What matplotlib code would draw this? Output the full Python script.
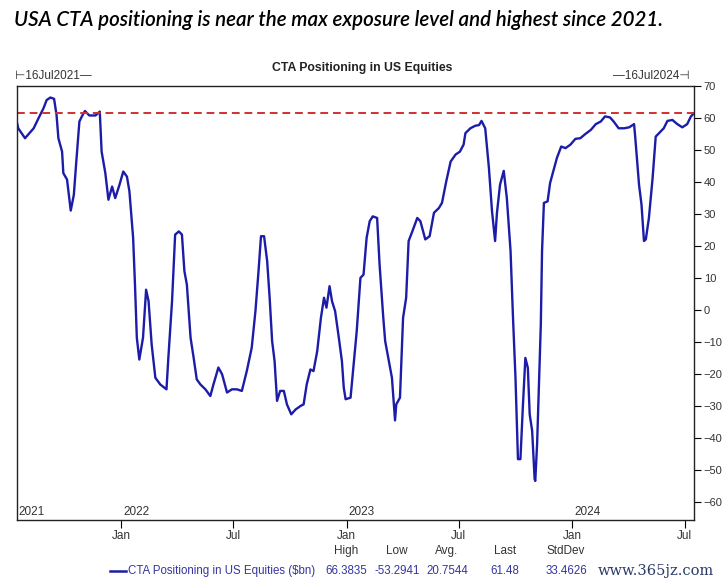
import pandas as pd
import matplotlib.pyplot as plt
import matplotlib.dates as mdates
from matplotlib import font_manager

# CTA positioning in US equities ($bn)
start = pd.Timestamp('2021-07-16')
days = [0, 2, 13, 27, 35, 43, 48, 54, 60, 64, 67, 73, 75, 81, 87, 92, 96, 101, 105, 110,
        117, 127, 134, 137, 143, 148, 154, 159, 166, 172, 178, 182, 188, 191, 194, 198, 204,
        209, 213, 218, 224, 232, 242, 245, 251, 256, 262, 267, 271,
        275, 281, 286, 291, 297, 305, 313, 318, 326, 332, 340, 348, 356, 364, 372, 380, 386,
        391, 395, 400, 405, 409, 413, 417, 421, 426, 432, 437, 444, 451, 459, 464, 469, 475,
        480, 486, 492, 497, 501, 506, 510, 515, 521, 526, 529, 532, 540, 545,
        550, 556, 561, 566, 571, 576, 583, 587, 593, 596, 602, 607, 612, 614, 620, 625, 630,
        634, 640, 648, 653, 661, 668, 675, 683, 688, 695, 702, 710, 717, 723, 726, 734, 742,
        748, 752, 758, 764, 769, 774, 777, 782, 788, 793, 799, 803, 807, 811, 815, 819, 823,
        827, 830, 834, 838, 839, 842, 845, 848, 850, 853, 859, 863, 869, 874, 881, 888, 896,
        904, 912, 920, 929, 937, 945, 952, 960, 966, 974, 983, 991, 999, 1001, 1007, 1011,
        1015, 1018, 1023, 1029, 1034, 1042, 1047, 1053, 1061, 1069, 1077, 1085, 1091, 1096]
values = [58.5, 56.8, 53.7, 56.8, 60.0, 63.1, 65.6, 66.4, 66.0, 61.0, 53.7, 49.5, 42.8, 40.8,
          31.1, 36.0, 46.4, 58.9, 60.5, 62.2, 60.8, 60.8, 62.0, 49.5, 42.8, 34.5, 38.6, 35.0,
          39.2, 43.3, 41.7, 37.1, 22.6, 8.0, -8.6, -15.4, -8.6, 6.4, 2.8, -10.7, -21.1, -23.2,
          -24.7, -14.9, 2.8, 23.6, 24.6, 23.6, 12.2,
          8.0, -8.6, -14.9, -21.6, -23.2, -24.7, -26.8, -23.2, -17.9, -20.0, -25.7, -24.7,
          -24.7, -25.2, -19.0, -11.7, -0.3, 12.2, 23.1, 23.1, 15.3, 3.9, -9.6, -15.9, -28.3,
          -25.2, -25.2, -29.4, -32.5, -31.0, -29.9, -29.4, -23.2, -18.5, -19.0, -12.8, -2.4,
          3.9, 0.8, 7.5, 2.8, -0.3, -8.6, -15.9, -24.2, -27.8, -27.3, -16.9,
          -6.5, 10.1, 11.1, 22.6, 27.8, 29.3, 28.8, 14.2, -2.4, -9.6, -15.9, -21.1, -34.4,
          -29.4, -27.3, -2.4, 3.9, 21.6, 24.6, 28.8, 27.8, 22.1, 23.1, 30.4, 31.9, 33.5, 40.3,
          46.4, 48.6, 49.5, 51.7, 55.3, 56.8, 57.6, 57.8, 59.1, 56.8, 44.4, 30.9, 21.6, 30.4,
          39.2, 43.5, 35.0, 18.5, -2.4, -21.1, -46.5, -46.5, -29.9, -14.9,
          -18.0, -32.5, -37.7, -52.7, -53.3, -41.8, -23.2, -4.5, 18.5, 33.5, 34.0, 39.7, 43.9,
          47.5, 51.1, 50.6, 51.7, 53.5, 53.7, 55.0, 56.3, 58.1, 58.9, 60.5, 60.2, 58.9, 56.8,
          56.8, 57.1, 58.1, 53.7, 39.2, 33.0, 21.6, 22.1, 28.8, 41.3, 54.2, 55.8, 56.8, 59.1,
          59.4, 58.1, 57.1, 58.1, 60.5, 61.48]
dates = start + pd.to_timedelta(days, unit='D')

stat_names = ['High', 'Low', 'Avg.', 'Last', 'StdDev']
stat_values = ['66.3835', '-53.2941', '20.7544', '61.48', '33.4626']
last_level = 61.48
series_name = 'CTA Positioning in US Equities ($bn)'

names = {f.name for f in font_manager.fontManager.ttflist}
narrow = 'Liberation Sans Narrow' if 'Liberation Sans Narrow' in names else 'Liberation Sans'
plt.rcParams['font.family'] = [narrow, 'DejaVu Sans']

fig = plt.figure(figsize=(7.22, 5.84), dpi=100)
ax = fig.add_axes([17 / 722, 1 - 520 / 584, (694 - 17) / 722, (520 - 86) / 584])

blue = '#1c1ca8'
ax.plot(dates, values, color=blue, lw=1.7)
ax.axhline(last_level, color='#d03030', lw=1.4, ls=(0, (4, 2.5)))

ax.set_xlim(pd.Timestamp('2021-07-16'), pd.Timestamp('2024-07-16'))
ax.set_ylim(-65.5, 70)
ax.yaxis.tick_right()
ax.set_yticks(range(-60, 71, 10))
ax.tick_params(axis='y', direction='out', length=5, width=0.8, labelsize=8,
               labelcolor='#333333', pad=2)
ax.xaxis.set_major_locator(mdates.MonthLocator(bymonth=[1, 7]))
ax.xaxis.set_major_formatter(mdates.DateFormatter('%b'))
ax.tick_params(axis='x', direction='out', length=6, width=0.8, labelsize=8.5,
               labelcolor='#333333', pad=1)
for s in ax.spines.values():
    s.set_linewidth(1.0)
    s.set_color('#222222')

# year labels inside the plot area
for yr, d in [('2021', '2021-07-19'), ('2022', '2022-01-04'),
              ('2023', '2023-01-04'), ('2024', '2024-01-04')]:
    ax.text(pd.Timestamp(d), -64.8, yr, fontsize=8.5, color='#333333',
            ha='left', va='bottom')

fig.text(14 / 722, 1 - 20 / 584, 'USA CTA positioning is near the max exposure level and highest since 2021.',
         family='Lato', style='italic', weight='semibold', fontsize=14.8, va='center', ha='left')
fig.text(362 / 722, 1 - 68 / 584, 'CTA Positioning in US Equities', fontsize=8.8,
         weight='bold', ha='center', va='center', color='#222222')
fig.text(15 / 722, 1 - 76 / 584, '⊢16Jul2021—', fontsize=8.5, ha='left', va='center',
         color='#333333')
fig.text(690 / 722, 1 - 76 / 584, '—16Jul2024⊣', fontsize=8.5, ha='right', va='center',
         color='#333333')

# legend table under the chart
fig.lines.append(plt.Line2D([110 / 722, 126 / 722], [1 - 571 / 584] * 2,
                            transform=fig.transFigure, color=blue, lw=1.8))
fig.text(128 / 722, 1 - 571 / 584, series_name, fontsize=8.3, color='#3535a0',
         ha='left', va='center')
cols = [346, 397, 447, 505, 566]
for cx, nm, val in zip(cols, stat_names, stat_values):
    fig.text(cx / 722, 1 - 551 / 584, nm, fontsize=8.5, color='#333333', ha='center', va='center')
    fig.text(cx / 722, 1 - 571 / 584, val, fontsize=8.3, color='#3535a0', ha='center', va='center')

fig.text(714 / 722, 1 - 571 / 584, 'www.365jz.com', family='DejaVu Serif', fontsize=10.5,
         color='#2b3a67', ha='right', va='center')

fig.savefig('out.png', dpi=100)
